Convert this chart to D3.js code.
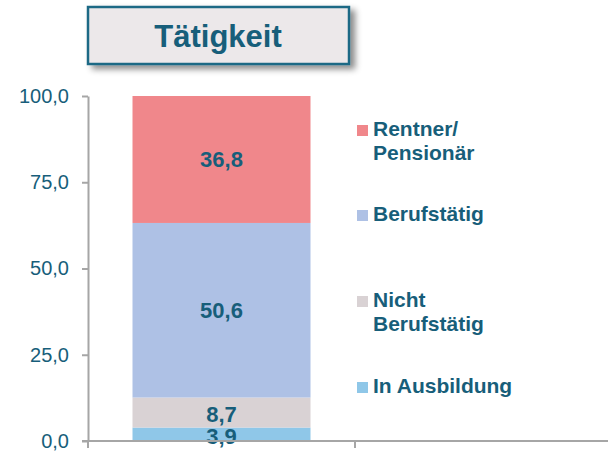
<!doctype html>
<html>
<head>
<meta charset="utf-8">
<title>Tätigkeit</title>
<script src="https://d3js.org/d3.v7.min.js"></script>
<style>
  body { margin: 0; background: #fff; }
  text { font-family: "Liberation Sans", Arial, sans-serif; }
</style>
</head>
<body>
<div id="chart"></div>
<script>
// chart data
var categories = ["Tätigkeit", ""];
var series = ["In Ausbildung", "Nicht Berufstätig", "Berufstätig", "Rentner/ Pensionär"];
var values = [3.9, 8.7, 50.6, 36.8];
var colors = ["#8fc7e8", "#d9d2d4", "#aec1e5", "#f0878b"];
var yTicks = [0, 25, 50, 75, 100];
// legend order (top to bottom) and line breaks
var legendItems = [
  {idx: 3, lines: ["Rentner/", "Pensionär"]},
  {idx: 2, lines: ["Berufstätig"]},
  {idx: 1, lines: ["Nicht", "Berufstätig"]},
  {idx: 0, lines: ["In Ausbildung"]}
];

var W = 608, H = 452;
var textColor = "#175e7a";
var fmt = function(v) { return d3.format(".1f")(v).replace(".", ","); };

var svg = d3.select("#chart").append("svg")
  .attr("width", W).attr("height", H);

// drop shadow for the title box
var defs = svg.append("defs");
var f = defs.append("filter").attr("id", "shadow")
  .attr("x", "-10%").attr("y", "-20%").attr("width", "130%").attr("height", "160%");
f.append("feDropShadow").attr("dx", 5).attr("dy", 4)
  .attr("stdDeviation", 3).attr("flood-color", "#000").attr("flood-opacity", 0.45);

// scales
var y = d3.scaleLinear().domain([0, 100]).range([441, 96]);
var x = d3.scaleBand().domain(categories).range([88, 622]).padding(0);
var barW = x.bandwidth() * 2 / 3;

// stacked values
var stack = [];
var acc = 0;
values.forEach(function(v, i) {
  stack.push({i: i, y0: acc, y1: acc + v, v: v});
  acc += v;
});

// bars
var bx = x(categories[0]) + (x.bandwidth() - barW) / 2;
svg.selectAll(".seg").data(stack).enter().append("rect")
  .attr("class", "seg")
  .attr("x", bx)
  .attr("width", barW)
  .attr("y", function(d) { return y(d.y1); })
  .attr("height", function(d) { return y(d.y0) - y(d.y1); })
  .attr("fill", function(d) { return colors[d.i]; });

// data labels
svg.selectAll(".lbl").data(stack).enter().append("text")
  .attr("class", "lbl")
  .attr("x", bx + barW / 2)
  .attr("y", function(d) { return (y(d.y0) + y(d.y1)) / 2; })
  .attr("dy", function(d) { return d.v < 10 ? "0.42em" : "0.34em"; })
  .attr("text-anchor", "middle")
  .attr("font-size", 22).attr("font-weight", "bold")
  .attr("fill", textColor)
  .text(function(d) { return fmt(d.v); });

// y axis
var yAxis = svg.append("g")
  .attr("transform", "translate(88,0)")
  .call(d3.axisLeft(y).tickValues(yTicks).tickFormat(fmt)
    .tickSizeInner(6).tickSizeOuter(0).tickPadding(13));
yAxis.select(".domain").attr("stroke", "#a6a6a6").attr("stroke-width", 2);
yAxis.selectAll(".tick line").attr("stroke", "#a6a6a6").attr("stroke-width", 2);
yAxis.selectAll(".tick text")
  .attr("font-size", 20).attr("fill", textColor)
  .attr("font-family", "Liberation Sans, Arial, sans-serif");
// extend y axis line below the x axis
yAxis.append("line").attr("x1", 0).attr("x2", 0)
  .attr("y1", y(0)).attr("y2", y(0) + 7)
  .attr("stroke", "#a6a6a6").attr("stroke-width", 2);

// x axis with ticks at category boundaries
var xg = svg.append("g").attr("transform", "translate(0," + y(0) + ")");
xg.append("line").attr("x1", 82).attr("x2", W)
  .attr("stroke", "#a6a6a6").attr("stroke-width", 2);
xg.selectAll(".xt").data(categories.slice(1)).enter().append("line")
  .attr("class", "xt")
  .attr("x1", function(d) { return x(d); }).attr("x2", function(d) { return x(d); })
  .attr("y1", 0).attr("y2", 7)
  .attr("stroke", "#a6a6a6").attr("stroke-width", 2);

// title box
svg.append("rect")
  .attr("x", 88).attr("y", 7).attr("width", 261).attr("height", 57)
  .attr("fill", "#ece8ea").attr("stroke", "#1f6985").attr("stroke-width", 2.5)
  .attr("filter", "url(#shadow)");
svg.append("text")
  .attr("x", 218).attr("y", 47)
  .attr("text-anchor", "middle")
  .attr("font-size", 31).attr("font-weight", "bold")
  .attr("fill", textColor)
  .text(categories[0]);

// legend
var legendY = [136, 221, 307, 393];
var lg = svg.selectAll(".leg").data(legendItems).enter().append("g")
  .attr("class", "leg")
  .attr("transform", function(d, i) { return "translate(357," + legendY[i] + ")"; });
lg.append("rect")
  .attr("x", 0).attr("y", -11).attr("width", 11).attr("height", 11)
  .attr("fill", function(d) { return colors[d.idx]; });
lg.append("text")
  .attr("x", 16).attr("y", 0)
  .attr("font-size", 21).attr("font-weight", "bold")
  .attr("fill", textColor)
  .selectAll("tspan").data(function(d) { return d.lines; }).enter().append("tspan")
  .attr("x", 16)
  .attr("dy", function(d, i) { return i === 0 ? 0 : 24; })
  .text(function(d) { return d; });
</script>
</body>
</html>
